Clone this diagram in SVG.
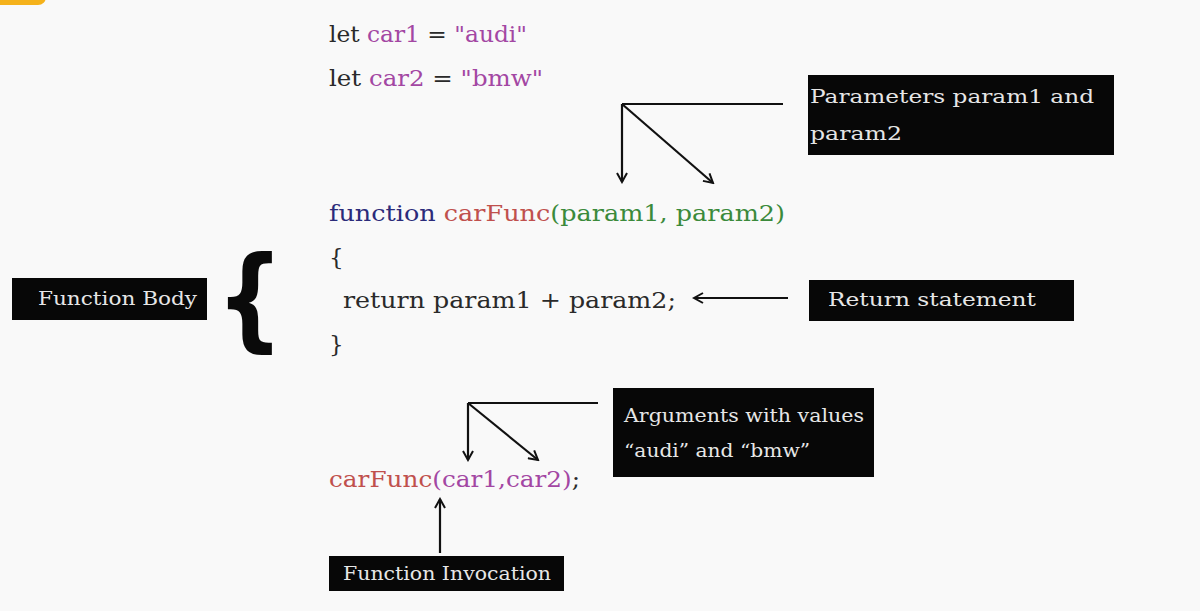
<svg xmlns="http://www.w3.org/2000/svg" width="1200" height="611" viewBox="0 0 1200 611">
<style>
.code{font-family:"DejaVu Serif","Liberation Serif",serif;font-size:23px;fill:#2a2a2a}
.lbl{font-family:"DejaVu Serif","Liberation Serif",serif;font-size:19px;fill:#e6e6e6}
.box{fill:#070707}
.ln{stroke:#111;stroke-width:2.2;fill:none}
.kw{fill:#2b2b7a}.fn{fill:#c0504d}.pr{fill:#3b8a3b}.vr{fill:#a347a3}
</style>
<defs>
<marker id="ah" viewBox="0 0 12 12" refX="10" refY="6" markerWidth="12" markerHeight="12" markerUnits="userSpaceOnUse" orient="auto">
<path d="M1,1 L10,6 L1,11" fill="none" stroke="#111" stroke-width="2"/>
</marker>
</defs>
<rect width="1200" height="611" fill="#f9f9f9"/>
<rect x="-10" y="-20" width="56" height="25" rx="8" fill="#f5b21b"/>
<g id="code">
<text class="code" x="329" y="42" textLength="198" lengthAdjust="spacingAndGlyphs">let <tspan class="vr">car1</tspan> = <tspan class="vr">"audi"</tspan></text>
<text class="code" x="329" y="86" textLength="214" lengthAdjust="spacingAndGlyphs">let <tspan class="vr">car2</tspan> = <tspan class="vr">"bmw"</tspan></text>
<text class="code" x="329" y="221" textLength="456" lengthAdjust="spacingAndGlyphs"><tspan class="kw">function</tspan> <tspan class="fn">carFunc</tspan><tspan class="pr">(param1, param2)</tspan></text>
<text class="code" x="329" y="265">{</text>
<text class="code" x="343" y="308" textLength="333" lengthAdjust="spacingAndGlyphs">return param1 + param2;</text>
<text class="code" x="329" y="352">}</text>
<text class="code" x="329" y="487" textLength="251" lengthAdjust="spacingAndGlyphs"><tspan class="fn">carFunc</tspan><tspan class="vr">(car1,car2)</tspan>;</text>
</g>
<g id="brace">
<text x="-14" y="0" font-family="DejaVu Sans,sans-serif" font-size="112" font-weight="bold" fill="#0a0a0a" transform="translate(228,336) scale(0.85,1)">{</text>
</g>
<g id="params-label">
<rect class="box" x="808" y="75" width="306" height="80"/>
<text class="lbl" x="810" y="103" textLength="284" lengthAdjust="spacingAndGlyphs">Parameters param1 and</text>
<text class="lbl" x="810" y="140" textLength="92" lengthAdjust="spacingAndGlyphs">param2</text>
</g>
<g id="body-label">
<rect class="box" x="12" y="278" width="195" height="42"/>
<text class="lbl" x="38" y="305" textLength="159" lengthAdjust="spacingAndGlyphs">Function Body</text>
</g>
<g id="return-label">
<rect class="box" x="809" y="280" width="265" height="41"/>
<text class="lbl" x="828" y="306" textLength="208" lengthAdjust="spacingAndGlyphs">Return statement</text>
</g>
<g id="args-label">
<rect class="box" x="613" y="388" width="261" height="89"/>
<text class="lbl" x="624" y="422" textLength="240" lengthAdjust="spacingAndGlyphs">Arguments with values</text>
<text class="lbl" x="624" y="457" textLength="186" lengthAdjust="spacingAndGlyphs">“audi” and “bmw”</text>
</g>
<g id="invoke-label">
<rect class="box" x="329" y="556" width="235" height="35"/>
<text class="lbl" x="343" y="580" textLength="208" lengthAdjust="spacingAndGlyphs">Function Invocation</text>
</g>
<g id="connectors">
<line class="ln" x1="783" y1="104" x2="622" y2="104"/>
<line class="ln" x1="622" y1="104" x2="622" y2="182" marker-end="url(#ah)"/>
<line class="ln" x1="622" y1="104" x2="713" y2="183" marker-end="url(#ah)"/>
<line class="ln" x1="788" y1="298" x2="694" y2="298" marker-end="url(#ah)"/>
<line class="ln" x1="598" y1="403" x2="468" y2="403"/>
<line class="ln" x1="468" y1="403" x2="468" y2="460" marker-end="url(#ah)"/>
<line class="ln" x1="468" y1="403" x2="538" y2="460" marker-end="url(#ah)"/>
<line class="ln" x1="440" y1="553" x2="440" y2="499" marker-end="url(#ah)"/>
</g>
</svg>
